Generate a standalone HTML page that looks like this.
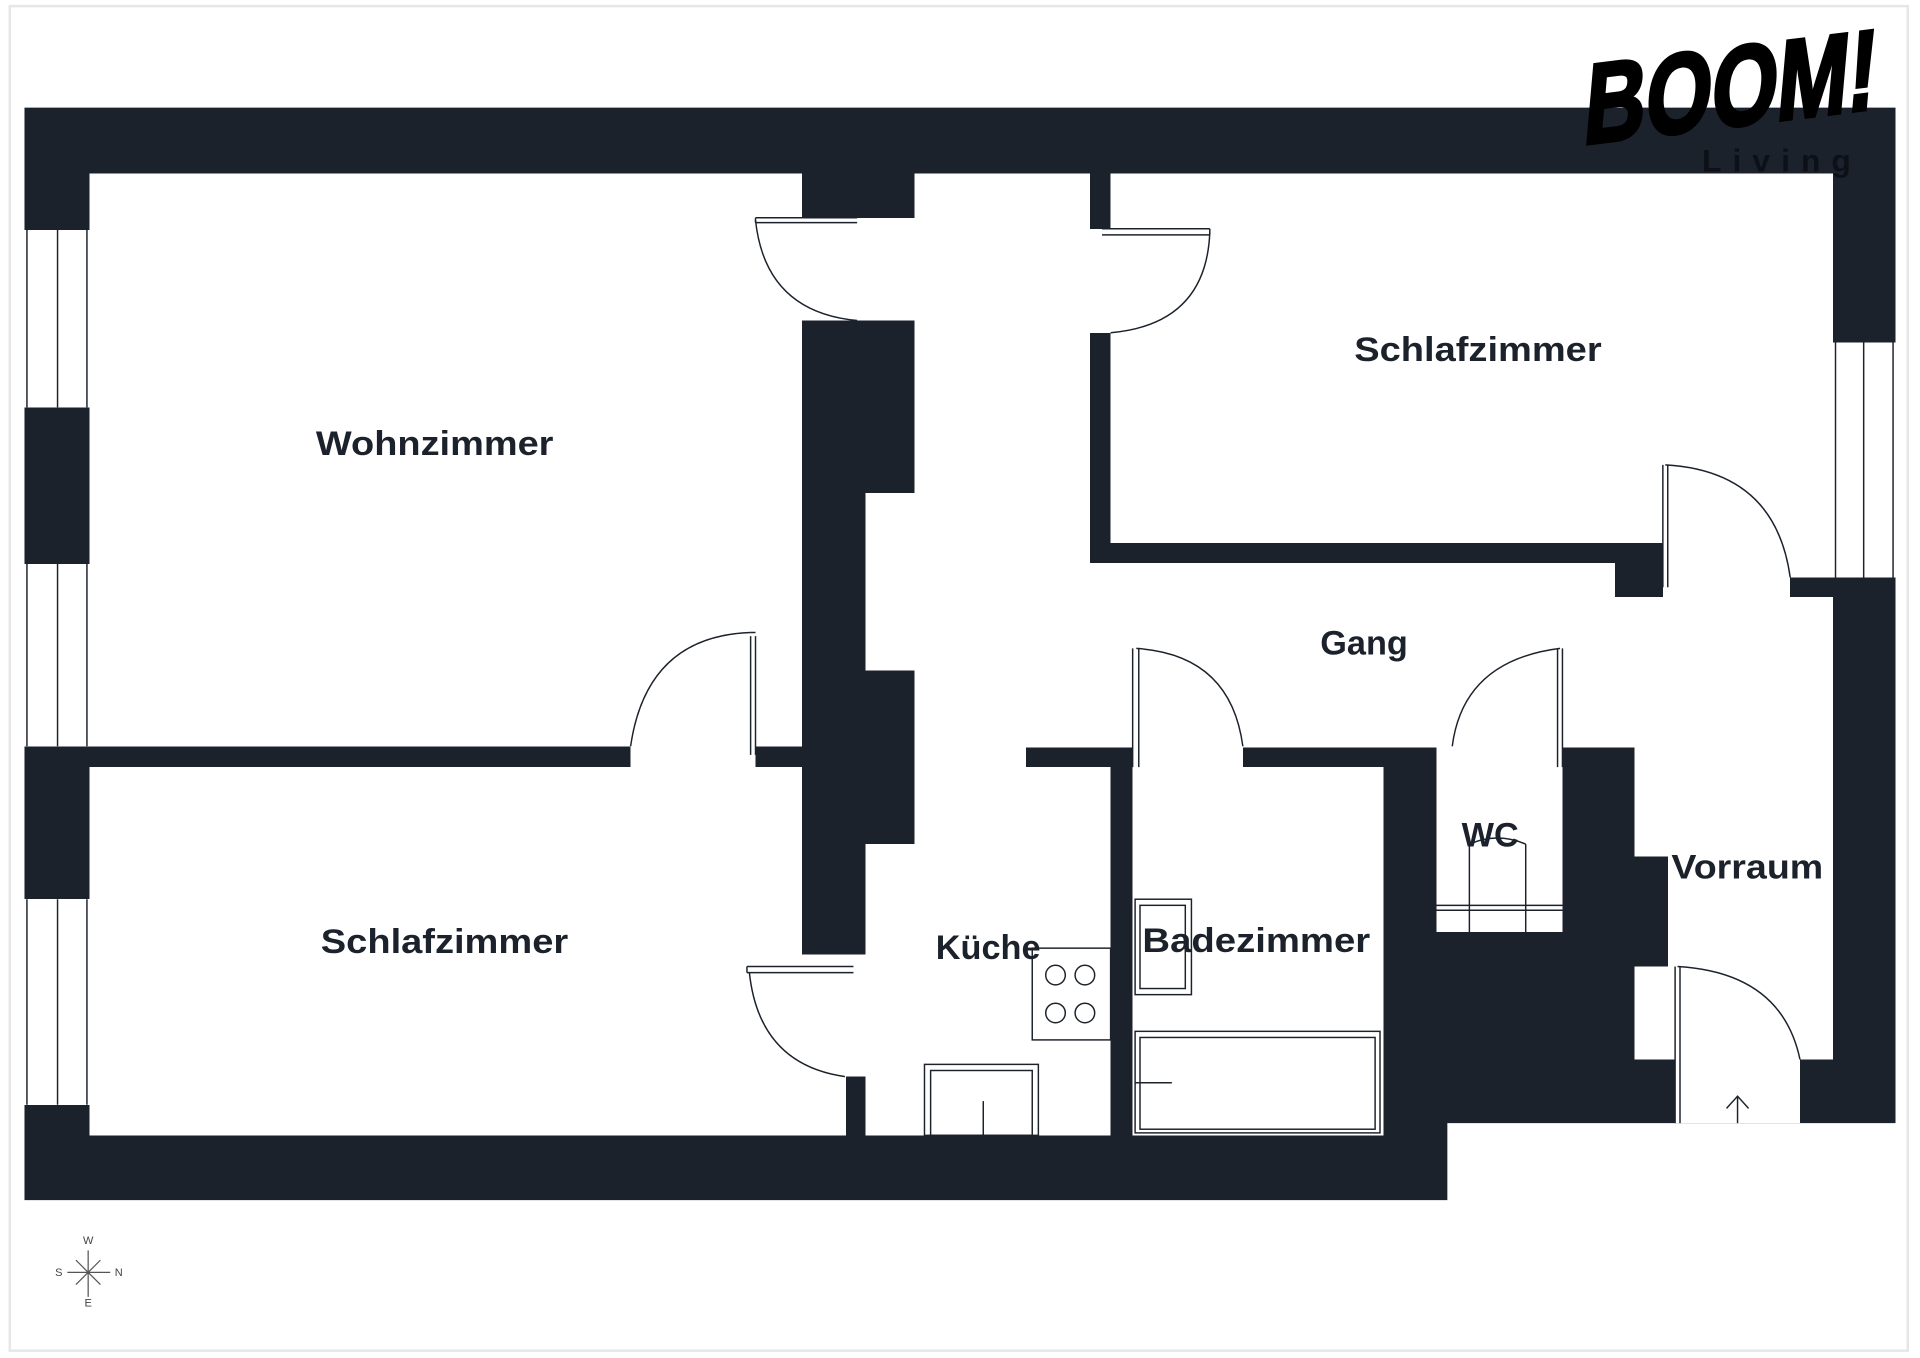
<!DOCTYPE html>
<html><head><meta charset="utf-8"><style>
html,body{margin:0;padding:0;background:#fff;}
svg{display:block;}
text{font-family:"Liberation Sans",sans-serif;}
</style></head><body>
<svg width="1920" height="1358" viewBox="0 0 1568 1110" preserveAspectRatio="none" xmlns="http://www.w3.org/2000/svg">
<rect x="0" y="0" width="1568" height="1110" fill="#fff"/>
<rect x="8" y="5" width="1550" height="1099" fill="none" stroke="#e6e6e6" stroke-width="2"/>
<polygon points="20,88 1548,88 1548,918 1182,918 1182,981 20,981" fill="#1c222c"/>
<g fill="#fff" shape-rendering="crispEdges">
<rect x="20" y="188" width="53" height="145"/>
<rect x="20" y="461" width="53" height="149"/>
<rect x="20" y="735" width="53" height="168"/>
<rect x="1497" y="280" width="51" height="192"/>
<rect x="73" y="142" width="582" height="468"/>
<rect x="617" y="178" width="131" height="84"/>
<rect x="747" y="142" width="143" height="319"/>
<rect x="889" y="187" width="19" height="85"/>
<rect x="707" y="403" width="41" height="145"/>
<rect x="747" y="460" width="572" height="151"/>
<rect x="1318" y="488" width="179" height="123"/>
<rect x="1358" y="443" width="139" height="29"/>
<rect x="1358" y="471" width="104" height="18"/>
<rect x="747" y="609" width="91" height="19"/>
<rect x="925" y="609" width="90" height="19"/>
<rect x="1173" y="609" width="103" height="19"/>
<rect x="907" y="142" width="590" height="302"/>
<rect x="515" y="609" width="102" height="19"/>
<rect x="73" y="627" width="582" height="301"/>
<rect x="654" y="780" width="37" height="148"/>
<rect x="610" y="780" width="97" height="100"/>
<rect x="747" y="627" width="160" height="301"/>
<rect x="707" y="690" width="41" height="238"/>
<rect x="925" y="627" width="205" height="301"/>
<rect x="1173" y="627" width="103" height="135"/>
<rect x="1335" y="609" width="162" height="91"/>
<rect x="1362" y="699" width="135" height="167"/>
<rect x="1335" y="790" width="33" height="76"/>
<rect x="1368" y="865" width="102" height="53"/>
</g>
<g fill="none" stroke="#1c222c" stroke-width="1.2">
<path d="M22 188V333M47 188V333M71 188V333M22 461V610M47 461V610M71 461V610M22 735V903M47 735V903M71 735V903M1499 280V472M1522 280V472M1546 280V472"/>
<path d="M617 178H700M617 182H700M617 178V182"/>
<path d="M617 180 Q625 255 700 262"/>
<path d="M900 187H988M900 192H988M988 187V192"/>
<path d="M988 190 Q985 265 907 272"/>
<path d="M613 520V617M617 520V617M613 517H617"/>
<path d="M613 517 Q528 520 515 610"/>
<path d="M1358 380V480M1362 380V480"/>
<path d="M1360 380 Q1450 385 1462 472"/>
<path d="M925 530V627M930 530V627"/>
<path d="M928 530 Q1005 535 1015 610"/>
<path d="M1272 530V627M1276 530V627"/>
<path d="M1274 530 Q1195 540 1186 610"/>
<path d="M610 790H697M610 795H697M610 790V795"/>
<path d="M612 795 Q620 870 690 880"/>
<path d="M1368 790V918M1372 790V918"/>
<path d="M1370 790 Q1455 795 1470 866"/>
<path d="M1419 918V896M1410 906L1419 896L1428 906"/>
<path d="M1173 740H1276M1173 744H1276M1200 690V762M1246 690V762M1200 690 Q1223 680 1246 690"/>
<rect x="843" y="775" width="64" height="75"/>
<circle cx="862" cy="797" r="8"/><circle cx="886" cy="797" r="8"/>
<circle cx="862" cy="828" r="8"/><circle cx="886" cy="828" r="8"/>
<rect x="755" y="870" width="93" height="58"/>
<rect x="760" y="875" width="83" height="53"/>
<path d="M803 900V928"/>
<rect x="927" y="735" width="46" height="78"/>
<rect x="931" y="740" width="37" height="68"/>
<rect x="927" y="843" width="200" height="83"/>
<rect x="931" y="848" width="192" height="75"/>
<path d="M927 885H957"/>
</g>
<g font-weight="bold" font-size="28" fill="#1c222c" text-anchor="middle">
<text x="355" y="372" textLength="194" lengthAdjust="spacingAndGlyphs">Wohnzimmer</text>
<text x="1207" y="295" textLength="202" lengthAdjust="spacingAndGlyphs">Schlafzimmer</text>
<text x="1114" y="535">Gang</text>
<text x="363" y="779" textLength="202" lengthAdjust="spacingAndGlyphs">Schlafzimmer</text>
<text x="807" y="784">Küche</text>
<text x="1026" y="778" textLength="186" lengthAdjust="spacingAndGlyphs">Badezimmer</text>
<text x="1217" y="692">WC</text>
<text x="1427" y="718" textLength="124" lengthAdjust="spacingAndGlyphs">Vorraum</text>
</g>
<g transform="translate(1292,118) rotate(-7) skewX(-12)">
<text x="0" y="0" font-size="92" font-weight="900" fill="#000" stroke="#000" stroke-width="3" textLength="240" lengthAdjust="spacingAndGlyphs">BOOM!</text>
</g>
<text x="1390" y="140" font-size="26" font-weight="bold" fill="#0d1016" letter-spacing="9">Living</text>
<g stroke="#555" stroke-width="1" fill="#444" font-size="9" text-anchor="middle">
<path d="M72 1022V1060M55 1040H90M62 1030L82 1050M82 1030L62 1050" fill="none"/>
<text x="72" y="1017" stroke="none">W</text>
<text x="72" y="1068" stroke="none">E</text>
<text x="48" y="1043" stroke="none">S</text>
<text x="97" y="1043" stroke="none">N</text>
</g>
</svg>
</body></html>
